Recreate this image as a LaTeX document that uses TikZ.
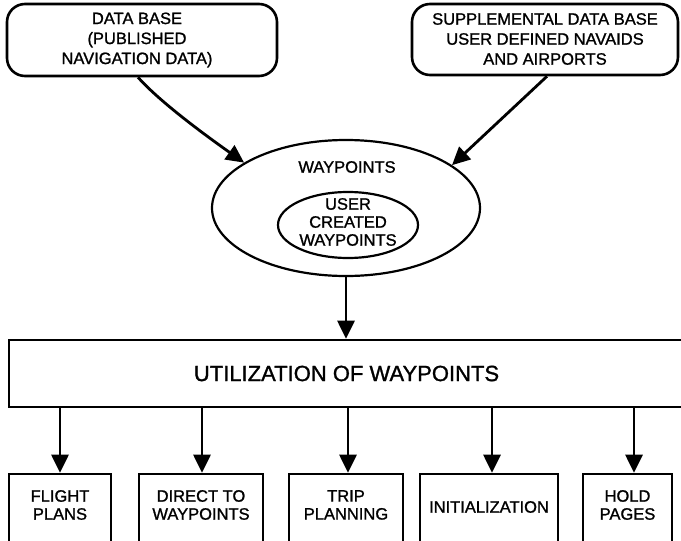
\documentclass[tikz,border=0pt]{standalone}
\usepackage{fontspec}
\setmainfont{Liberation Sans}[UprightFeatures={FakeBold=1.2}]
\usetikzlibrary{shapes.geometric,arrows.meta}
\begin{document}
\begin{tikzpicture}[x=1pt,y=-1pt,
  src/.style={draw,line width=2.6pt,rounded corners=18pt,inner sep=0pt,
    align=center,font=\fontsize{16.5}{20}\selectfont},
  oval/.style={draw,ellipse,line width=2.2pt,inner sep=0pt},
  txt/.style={align=center,inner sep=0pt,font=\fontsize{16.5}{18.5}\selectfont},
  usetxt/.style={align=center,inner sep=0pt,font=\fontsize{16.5}{18}\selectfont},
  usebox/.style={draw,line width=2.6pt,inner sep=0pt,minimum height=86pt},
  flow/.style={line width=2.8pt,-{Triangle[length=18pt,width=17pt]}},
]
\useasboundingbox (0,0) rectangle (681,541);
\fill[white] (0,0) rectangle (681,541);
\clip (0,0) rectangle (681,541);

% sources
\node[src,minimum width=270pt,minimum height=72pt] (db) at (142,40) {};
\node[src,minimum width=266pt,minimum height=71pt] (sdb) at (545,39.5) {};
\node[txt,font=\fontsize{16.5}{20}\selectfont] (dbt) at (137,40)
  {DATA BASE\\(PUBLISHED\\NAVIGATION DATA)};
\node[txt,font=\fontsize{16.5}{20}\selectfont] (sdbt) at (545,39)
  {SUPPLEMENTAL DATA BASE\\USER DEFINED NAVAIDS\\AND AIRPORTS};

% waypoint store
\node[oval,minimum width=268pt,minimum height=136pt] (wp) at (346,208) {};
\node[txt] (wpt) at (347,167) {WAYPOINTS};
\node[oval,minimum width=140pt,minimum height=66pt] (uc) at (348,225) {};
\node[txt,font=\fontsize{16.5}{18}\selectfont] (uct) at (348,222) {USER\\CREATED\\WAYPOINTS};

% utilization bar (runs off the right edge)
\node[draw,line width=2.6pt,inner sep=0pt,minimum width=675pt,minimum height=67pt,
  font=\fontsize{22}{26}\selectfont] (util) at (346.5,373.5) {UTILIZATION OF WAYPOINTS};

% uses
\node[usebox,minimum width=102pt] (fp) at (60,517) {};
\node[usebox,minimum width=124pt] (dw) at (201,517) {};
\node[usebox,minimum width=114pt] (tp) at (346,517) {};
\node[usebox,minimum width=138pt] (in) at (489,517) {};
\node[usebox,minimum width=89pt] (hp) at (627.5,517) {};

\node[usetxt] (fpt) at (60,505) {FLIGHT\\PLANS};
\node[usetxt] (dwt) at (201,505) {DIRECT TO\\WAYPOINTS};
\node[usetxt] (tpt) at (346,505) {TRIP\\PLANNING};
\node[usetxt] (int) at (489,507) {INITIALIZATION};
\node[usetxt] (hpt) at (627.5,505) {HOLD\\PAGES};

% connectors
\coordinate (dbout) at ([xshift=-4pt]db.south);
\draw[flow] (dbout) .. controls (160,102) and (205,135) .. (wp.156);
\coordinate (sdbout) at ([xshift=2pt]sdb.south);
\draw[flow] (sdbout) -- (wp.22);
\draw[flow] (wp.south) -- (wp.south |- util.north);

\coordinate (fpin) at (fp.north);
\coordinate (dwin) at ([xshift=1pt]dw.north);
\coordinate (tpin) at ([xshift=2pt]tp.north);
\coordinate (inin) at ([xshift=3pt]in.north);
\coordinate (hpin) at ([xshift=6.5pt]hp.north);
\foreach \t in {fpin,dwin,tpin,inin,hpin}
  \draw[flow] (util.south -| \t) -- (\t);
\end{tikzpicture}
\end{document}
